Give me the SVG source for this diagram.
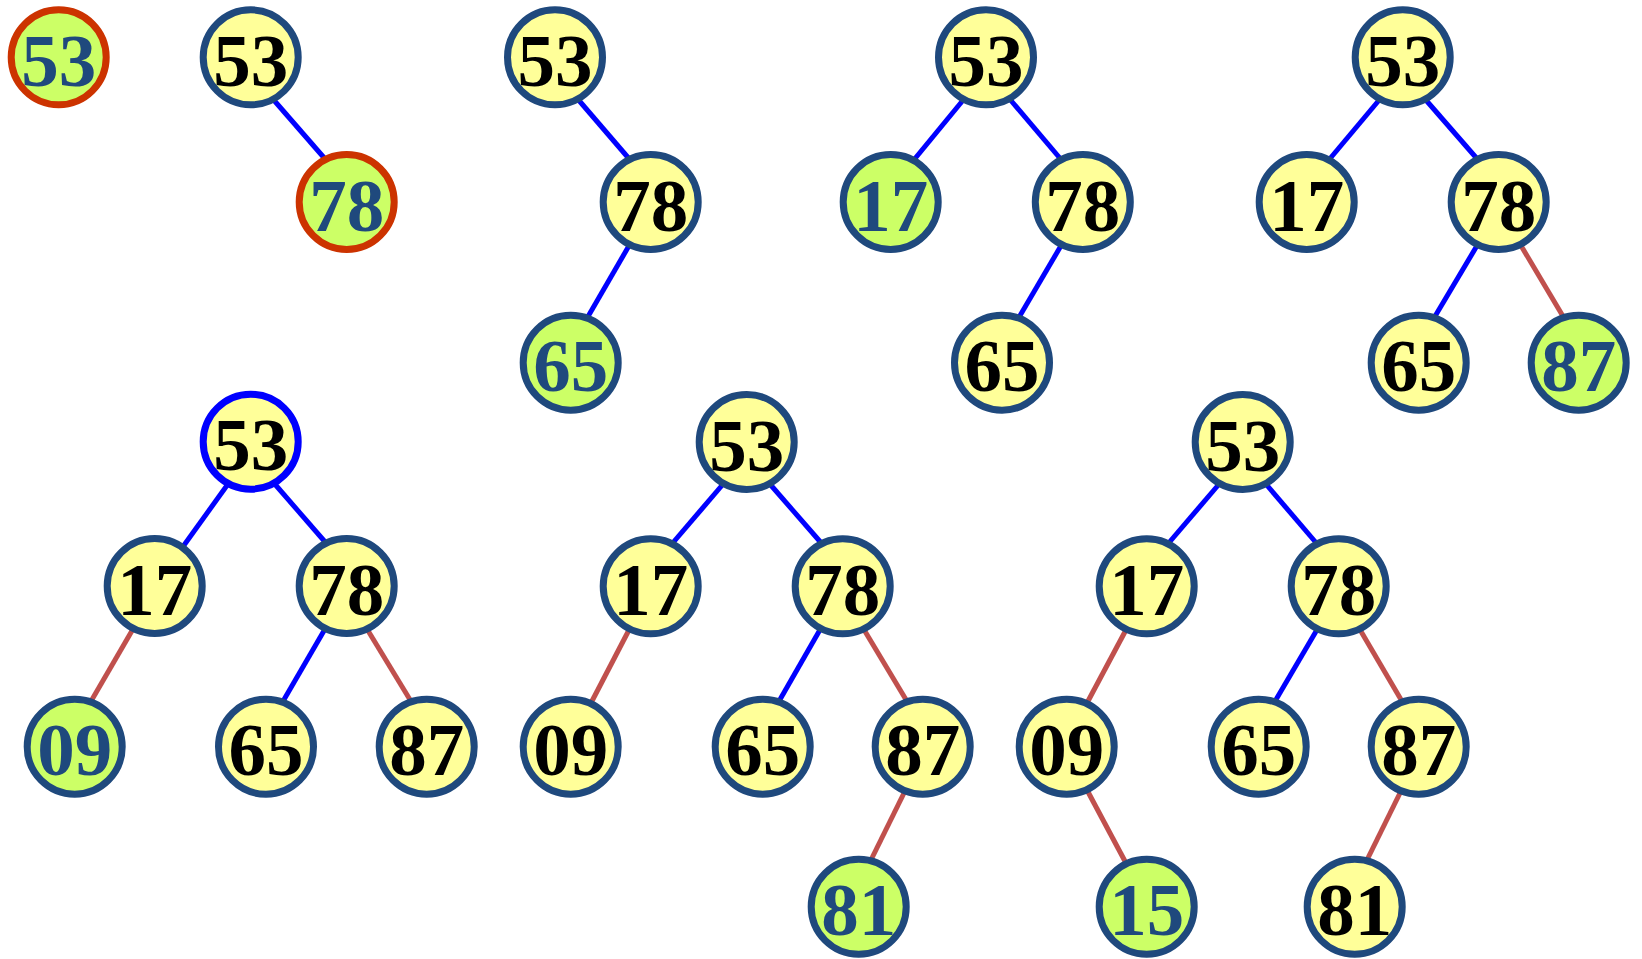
<svg xmlns="http://www.w3.org/2000/svg" width="1642" height="959" viewBox="0 0 1642 959">
<style>
.n circle{stroke:#1F497D;stroke-width:7;fill:#FFFF99}
.n text{font-family:"Liberation Serif","Times New Roman",serif;font-weight:bold;font-size:75px;text-anchor:middle;fill:#000}
.g circle{fill:#CCFF66}
.g text{fill:#1F497D}
.r circle{stroke:#CC3300}
.b circle{stroke:#0000FF}
.cb{stroke:#0000FF;stroke-width:5;fill:none}
.cr{stroke:#C0504D;stroke-width:5;fill:none}
</style>
<rect width="1642" height="959" fill="#fff"/>
<g id="connectors">
<line class="cb" x1="272" y1="98" x2="326" y2="160"/>
<line class="cb" x1="576" y1="97" x2="631" y2="161"/>
<line class="cb" x1="630" y1="244" x2="586" y2="320"/>
<line class="cb" x1="964" y1="99" x2="913" y2="161"/>
<line class="cb" x1="1008" y1="97" x2="1064" y2="163"/>
<line class="cb" x1="1062" y1="244" x2="1018" y2="319"/>
<line class="cb" x1="1380" y1="99" x2="1328" y2="161"/>
<line class="cb" x1="1425" y1="99" x2="1479" y2="161"/>
<line class="cb" x1="1478" y1="244" x2="1434" y2="318"/>
<line class="cr" x1="1520" y1="244" x2="1564" y2="318"/>
<line class="cb" x1="228" y1="484" x2="182" y2="548"/>
<line class="cb" x1="273" y1="482" x2="326" y2="543"/>
<line class="cr" x1="133" y1="629" x2="90" y2="703"/>
<line class="cb" x1="325" y1="629" x2="282" y2="703"/>
<line class="cr" x1="367" y1="629" x2="412" y2="703"/>
<line class="cb" x1="724" y1="483" x2="671" y2="545"/>
<line class="cb" x1="769" y1="483" x2="823" y2="545"/>
<line class="cr" x1="630" y1="628" x2="591" y2="703"/>
<line class="cb" x1="821" y1="628" x2="778" y2="703"/>
<line class="cr" x1="863" y1="628" x2="908" y2="703"/>
<line class="cr" x1="905" y1="791" x2="870" y2="862"/>
<line class="cb" x1="1220" y1="483" x2="1167" y2="545"/>
<line class="cb" x1="1265" y1="483" x2="1318" y2="545"/>
<line class="cr" x1="1127" y1="628" x2="1087" y2="703"/>
<line class="cb" x1="1318" y1="628" x2="1274" y2="703"/>
<line class="cr" x1="1359" y1="628" x2="1403" y2="703"/>
<line class="cr" x1="1087" y1="790" x2="1127" y2="865"/>
<line class="cr" x1="1401" y1="791" x2="1366" y2="862"/>
</g>
<g id="a53" class="n g r"><circle cx="58.7" cy="57.3" r="47.5"/><text x="58.7" y="86">53</text></g>
<g id="b53" class="n"><circle cx="250.7" cy="57.3" r="47.5"/><text x="250.7" y="86">53</text></g>
<g id="b78" class="n g r"><circle cx="346.7" cy="202" r="47.5"/><text x="346.7" y="230.5">78</text></g>
<g id="c53" class="n"><circle cx="555" cy="57.3" r="47.5"/><text x="555" y="86">53</text></g>
<g id="c78" class="n"><circle cx="650.7" cy="202" r="47.5"/><text x="650.7" y="230.5">78</text></g>
<g id="c65" class="n g"><circle cx="570.7" cy="362.7" r="47.5"/><text x="570.7" y="391.2">65</text></g>
<g id="d53" class="n"><circle cx="986" cy="57.3" r="47.5"/><text x="986" y="86">53</text></g>
<g id="d17" class="n g"><circle cx="890.7" cy="202" r="47.5"/><text x="890.7" y="230.5">17</text></g>
<g id="d78" class="n"><circle cx="1082.8" cy="202" r="47.5"/><text x="1082.8" y="230.5">78</text></g>
<g id="d65" class="n"><circle cx="1002" cy="362.7" r="47.5"/><text x="1002" y="391.2">65</text></g>
<g id="e53" class="n"><circle cx="1402.7" cy="57.3" r="47.5"/><text x="1402.7" y="86">53</text></g>
<g id="e17" class="n"><circle cx="1306.7" cy="202" r="47.5"/><text x="1306.7" y="230.5">17</text></g>
<g id="e78" class="n"><circle cx="1498.7" cy="202" r="47.5"/><text x="1498.7" y="230.5">78</text></g>
<g id="e65" class="n"><circle cx="1418.7" cy="362.7" r="47.5"/><text x="1418.7" y="391.2">65</text></g>
<g id="e87" class="n g"><circle cx="1578.7" cy="362.7" r="47.5"/><text x="1578.7" y="391.2">87</text></g>
<g id="f53" class="n b"><circle cx="250.7" cy="441.7" r="47.5"/><text x="250.7" y="470.2">53</text></g>
<g id="f17" class="n"><circle cx="154.7" cy="586" r="47.5"/><text x="154.7" y="614.5">17</text></g>
<g id="f78" class="n"><circle cx="346.7" cy="586" r="47.5"/><text x="346.7" y="614.5">78</text></g>
<g id="f09" class="n g"><circle cx="74.7" cy="746.7" r="47.5"/><text x="74.7" y="775.2">09</text></g>
<g id="f65" class="n"><circle cx="266" cy="746.7" r="47.5"/><text x="266" y="775.2">65</text></g>
<g id="f87" class="n"><circle cx="426.7" cy="746.7" r="47.5"/><text x="426.7" y="775.2">87</text></g>
<g id="g53" class="n"><circle cx="746.7" cy="442" r="47.5"/><text x="746.7" y="470.5">53</text></g>
<g id="g17" class="n"><circle cx="650.7" cy="586.3" r="47.5"/><text x="650.7" y="614.8">17</text></g>
<g id="g78" class="n"><circle cx="842.7" cy="586.3" r="47.5"/><text x="842.7" y="614.8">78</text></g>
<g id="g09" class="n"><circle cx="570.7" cy="746.7" r="47.5"/><text x="570.7" y="775.2">09</text></g>
<g id="g65" class="n"><circle cx="762.7" cy="746.7" r="47.5"/><text x="762.7" y="775.2">65</text></g>
<g id="g87" class="n"><circle cx="922.7" cy="746.7" r="47.5"/><text x="922.7" y="775.2">87</text></g>
<g id="g81" class="n g"><circle cx="858.7" cy="906.8" r="47.5"/><text x="858.7" y="935.3">81</text></g>
<g id="h53" class="n"><circle cx="1242.7" cy="442" r="47.5"/><text x="1242.7" y="470.5">53</text></g>
<g id="h17" class="n"><circle cx="1146.7" cy="586.3" r="47.5"/><text x="1146.7" y="614.8">17</text></g>
<g id="h78" class="n"><circle cx="1338.7" cy="586.3" r="47.5"/><text x="1338.7" y="614.8">78</text></g>
<g id="h09" class="n"><circle cx="1066.7" cy="746.7" r="47.5"/><text x="1066.7" y="775.2">09</text></g>
<g id="h65" class="n"><circle cx="1258.7" cy="746.7" r="47.5"/><text x="1258.7" y="775.2">65</text></g>
<g id="h87" class="n"><circle cx="1418.7" cy="746.7" r="47.5"/><text x="1418.7" y="775.2">87</text></g>
<g id="h15" class="n g"><circle cx="1146.7" cy="906.8" r="47.5"/><text x="1146.7" y="935.3">15</text></g>
<g id="h81" class="n"><circle cx="1354.7" cy="906.8" r="47.5"/><text x="1354.7" y="935.3">81</text></g>
</svg>
